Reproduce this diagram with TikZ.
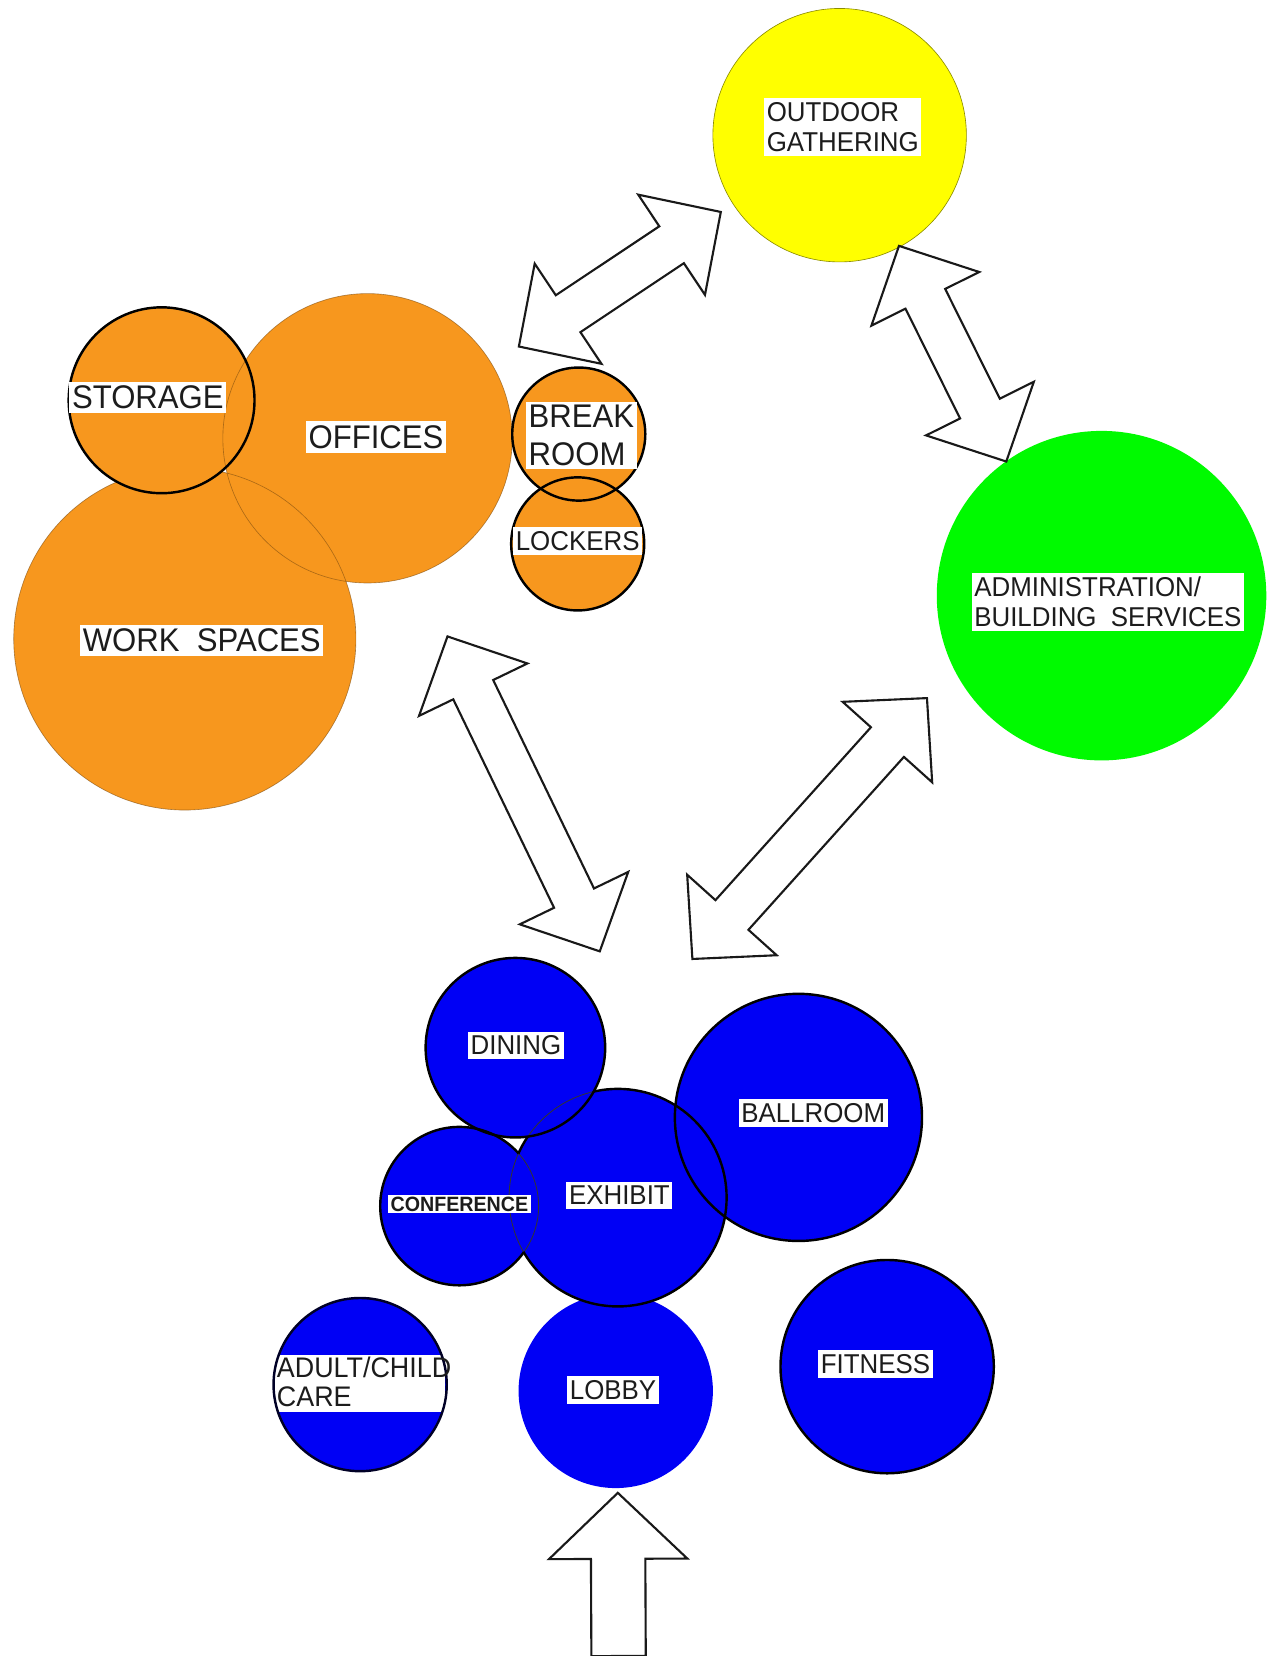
\documentclass[tikz,border=0pt]{standalone}
\usepackage{fontspec}
\setmainfont{Liberation Sans}[FakeStretch=0.95]
\usetikzlibrary{calc}
\definecolor{orng}{RGB}{247,151,30}
\definecolor{yel}{RGB}{255,255,0}
\definecolor{grn}{RGB}{0,250,0}
\definecolor{blu}{RGB}{0,0,245}
\definecolor{ink}{RGB}{28,28,28}
% double block arrow between two named coordinates
\newcommand{\dblarrow}[2]{%
  \draw[blockarr] (#1)
   -- ($(#1)!56pt!(#2)!57pt!90:(#2)$)
   -- ($(#1)!56pt!(#2)!21pt!90:(#2)$)
   -- ($(#2)!56pt!(#1)!21pt!-90:(#1)$)
   -- ($(#2)!56pt!(#1)!57pt!-90:(#1)$)
   -- (#2)
   -- ($(#2)!56pt!(#1)!57pt!90:(#1)$)
   -- ($(#2)!56pt!(#1)!21pt!90:(#1)$)
   -- ($(#1)!56pt!(#2)!21pt!-90:(#2)$)
   -- ($(#1)!56pt!(#2)!57pt!-90:(#2)$)
   -- cycle;}
% single block arrow from tail #1 to tip #2
\newcommand{\sglarrow}[2]{%
  \draw[blockarr] (#2)
   -- ($(#2)!62.5pt!(#1)!65.5pt!90:(#1)$)
   -- ($(#2)!62.5pt!(#1)!25.75pt!90:(#1)$)
   -- ($(#1)!25.75pt!-90:(#2)$)
   -- ($(#1)!25.75pt!90:(#2)$)
   -- ($(#2)!62.5pt!(#1)!25.75pt!-90:(#1)$)
   -- ($(#2)!62.5pt!(#1)!65.5pt!-90:(#1)$)
   -- cycle;}
\begin{document}
\begin{tikzpicture}[x=1pt,y=-1pt,
  room/.style={circle, inner sep=0pt, fill=#1},
  faint/.style={line width=0.6pt, draw=orng!50!black, draw opacity=0.6},
  thinedge/.style={line width=0.6pt, draw=#1},
  blackedge/.style={line width=2.3pt, draw=black},
  thinblack/.style={line width=0.8pt, draw=black!80},
  lbl/.style={fill=white, text=ink, inner xsep=2.5pt, inner ysep=4pt, align=left,
     font=\fontsize{25.8}{29}\selectfont},
  biglbl/.style={lbl, font=\fontsize{31}{36}\selectfont},
  blockarr/.style={draw=black!90, fill=white, line width=2pt, line join=miter}]
\useasboundingbox (0,0) rectangle (1203,1568);
\fill[white] (0,0) rectangle (1203,1568);

% ---------- orange group ----------
\node[room=orng, minimum size=324pt] (worksp) at (175,605) {};
\node[room=orng, minimum size=176pt] (storage) at (153,379) {};
\node[room=orng, minimum size=274pt] (offices) at (348,415) {};
\node[room=orng, minimum size=126pt] (breakrm) at (548,411) {};
\node[room=orng, minimum size=126pt] (lockers) at (547,515) {};
\draw[faint] (offices.center) circle[radius=137pt];
\begin{scope}[even odd rule]
  \clip (0,0) rectangle (1203,1568) (storage.center) circle[radius=88pt];
  \draw[faint] (worksp.center) circle[radius=162pt];
\end{scope}
\draw[blackedge] (storage.center) circle[radius=88pt];
\draw[blackedge] (breakrm.center) circle[radius=63pt];
\draw[blackedge] (lockers.center) circle[radius=63pt];

% ---------- yellow / green ----------
\node[room=yel, minimum size=240pt] (outdoor) at (795,128) {};
\draw[thinedge=yel!55!black] (outdoor.center) circle[radius=120pt];
\node[room=grn, minimum size=312pt] (admin) at (1043,564) {};

% ---------- blue group ----------
\node[room=blu, minimum size=234pt] (ballroom) at (756,1058) {};
\node[room=blu, minimum size=170pt] (dining) at (488,992) {};
\node[room=blu, minimum size=206pt] (exhibit) at (585,1134) {};
\node[room=blu, minimum size=150pt] (confer) at (435,1142) {};
\node[room=blu, minimum size=184pt] (lobby) at (583,1317) {};
\node[room=blu, minimum size=164pt] (adult) at (341,1311) {};
\node[room=blu, minimum size=202pt] (fitness) at (840,1294) {};
% thin arcs where circles overlap
\draw[thinblack] (exhibit.center) circle[radius=103pt];
\draw[thinblack] (confer.center) circle[radius=75pt];
\begin{scope}[even odd rule]
  \clip (0,0) rectangle (1203,1568) (dining.center) circle[radius=85pt];
  \begin{scope}[even odd rule]
    \clip (0,0) rectangle (1203,1568) (confer.center) circle[radius=75pt];
    \draw[blackedge] (exhibit.center) circle[radius=103pt];
  \end{scope}
\end{scope}
\begin{scope}[even odd rule]
  \clip (0,0) rectangle (1203,1568) (exhibit.center) circle[radius=103pt];
  \draw[blackedge] (confer.center) circle[radius=75pt];
\end{scope}
\draw[blackedge] (ballroom.center) circle[radius=117pt];
\draw[blackedge] (dining.center) circle[radius=85pt];
\draw[blackedge] (fitness.center) circle[radius=101pt];
\begin{scope}
  \clip (adult.center) circle[radius=82pt];
  \fill[white] (255,1283) rectangle (421,1337);
\end{scope}
\draw[blackedge, draw=black!85!blue] (adult.center) circle[radius=82pt];

% ---------- labels ----------
\node[lbl] (lout) at (798,120.5) {OUTDOOR\\GATHERING};
\node[biglbl] (loff) at (356,414) {OFFICES};
\node[biglbl] (lsto) at (140,376.5) {STORAGE};
\node[biglbl] (lwork) at (191,606.5) {WORK\ \ SPACES};
\node[biglbl, inner ysep=3pt] (lbrk) at (550.5,412) {BREAK\\ROOM};
\node[lbl] (llock) at (547,512.5) {LOCKERS};
\node[lbl, font=\fontsize{25.8}{28}\selectfont] (ladm) at (1049,570) {ADMINISTRATION/\\BUILDING\ \ SERVICES};
\node[lbl] (ldin) at (488.5,990) {DINING};
\node[lbl] (lball) at (770,1053.5) {BALLROOM};
\node[lbl, inner ysep=2pt, font=\fontsize{19.6}{22}\selectfont\bfseries] (lconf) at (435,1140) {CONFERENCE};
\node[lbl] (lexh) at (586.5,1132) {EXHIBIT};
\node[lbl] (llob) at (580.5,1316) {LOBBY};
\node[lbl] (lfit) at (829,1291.5) {FITNESS};
\node[anchor=north west, inner sep=0pt, text=ink, align=left,
      font=\fontsize{26.8}{27}\selectfont] (ladult) at (262,1285) {ADULT/CHILD\\CARE};

% ---------- connectors ----------
\coordinate (aA1) at (491.3,328.1);
\coordinate (aA2) at (682.5,200.7);
\coordinate (aB1) at (851.2,232.8);
\coordinate (aB2) at (952.8,437);
\coordinate (aC1) at (423.7,602.6);
\coordinate (aC2) at (567.9,900.8);
\coordinate (aD1) at (877.7,661);
\coordinate (aD2) at (655.6,908);
\coordinate (entry) at (585.7,1568);
\coordinate (entrytip) at (585,1413.5);
\dblarrow{aA1}{aA2}
\dblarrow{aB1}{aB2}
\dblarrow{aC1}{aC2}
\dblarrow{aD1}{aD2}
\sglarrow{entry}{entrytip}
\end{tikzpicture}
\end{document}
